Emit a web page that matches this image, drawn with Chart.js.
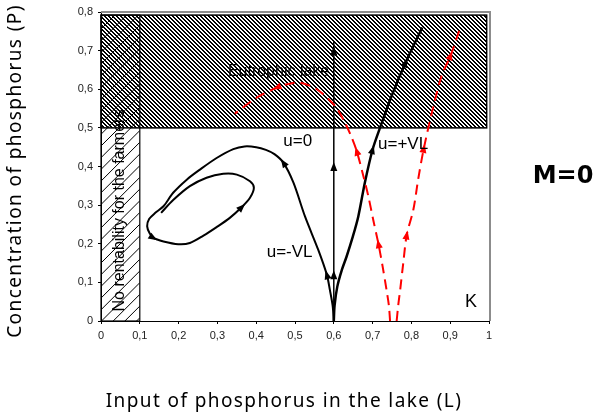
<!DOCTYPE html>
<html>
<head>
<meta charset="utf-8">
<script src="https://cdn.jsdelivr.net/npm/chart.js@4.4.1/dist/chart.umd.min.js"></script>
<style>
  html, body { margin: 0; padding: 0; background: #ffffff; }
  #wrap { width: 595px; height: 419px; }
</style>
</head>
<body>
<div id="wrap"><canvas id="chart" width="595" height="419"></canvas></div>
<script>
// Tick labels
const xTickValues = [0, 0.1, 0.2, 0.3, 0.4, 0.5, 0.6, 0.7, 0.8, 0.9, 1];
const yTickValues = [0, 0.1, 0.2, 0.3, 0.4, 0.5, 0.6, 0.7, 0.8];

// Regions (L, P)
const eutrophicL = [0, 0.994];
const eutrophicP = [0.5, 0.792];
const noRentL = [0, 0.1];
const noRentP = [0, 0.792];

// Trajectory u=0
const uZeroL = [0.6, 0.6, 0.6, 0.6, 0.6];
const uZeroP = [0, 0.12, 0.40, 0.70, 0.725];
const uZeroArrows = [1, 2, 3];

// Trajectory u=+VL
const uPlusL = [0.6, 0.602, 0.609, 0.62, 0.633, 0.648, 0.663, 0.68, 0.70, 0.719, 0.75, 0.785, 0.828];
const uPlusP = [0, 0.04, 0.089, 0.13, 0.167, 0.215, 0.27, 0.358, 0.444, 0.5, 0.585, 0.669, 0.76];
const uPlusArrows = [8, 11];

// Trajectory u=-VL (spiral)
const uMinusL = [0.6, 0.597, 0.59, 0.582, 0.56, 0.526, 0.496, 0.47, 0.447, 0.425, 0.40, 0.37, 0.341,
  0.298, 0.255, 0.221, 0.186, 0.161, 0.14, 0.124, 0.119, 0.125, 0.135, 0.161, 0.199, 0.229, 0.264,
  0.298, 0.332, 0.363, 0.384, 0.394, 0.384, 0.35, 0.315, 0.272, 0.229, 0.186, 0.155];
const uMinusP = [0, 0.04, 0.08, 0.12, 0.184, 0.27, 0.358, 0.41, 0.432, 0.443, 0.45, 0.452, 0.445,
  0.422, 0.392, 0.366, 0.332, 0.297, 0.28, 0.264, 0.245, 0.228, 0.215, 0.206, 0.199, 0.202, 0.221,
  0.243, 0.267, 0.295, 0.319, 0.345, 0.362, 0.379, 0.381, 0.371, 0.349, 0.313, 0.28];
const uMinusArrows = [3, 7, 22, 29];

// Red dashed trajectories
const redLeftL = [0.745, 0.742, 0.736, 0.726, 0.715, 0.702, 0.689, 0.675, 0.659, 0.645, 0.628, 0.603,
  0.556, 0.513, 0.48, 0.453, 0.401, 0.345];
const redLeftP = [0, 0.04, 0.08, 0.14, 0.2, 0.26, 0.323, 0.38, 0.44, 0.478, 0.515, 0.557,
  0.6, 0.617, 0.613, 0.604, 0.578, 0.537];
const redLeftArrows = [4, 8, 15];

const redRightL = [0.762, 0.766, 0.771, 0.779, 0.788, 0.805, 0.818, 0.832, 0.857, 0.878, 0.901, 0.923];
const redRightP = [0, 0.04, 0.08, 0.15, 0.223, 0.288, 0.37, 0.447, 0.557, 0.635, 0.687, 0.751];
const redRightArrows = [4, 7, 10];

function series(xs, ys) {
  return xs.map((x, i) => ({ x: x, y: ys[i] }));
}

function commaLabel(v) {
  return String(Math.round(v * 10) / 10).replace('.', ',');
}

// dense "\\" hatch pattern
function densePattern(ctx) {
  const c = document.createElement('canvas');
  c.width = 4; c.height = 4;
  const g = c.getContext('2d');
  g.fillStyle = '#000000';
  for (let y = 0; y < 4; y++) {
    for (let x = 0; x < 4; x++) {
      const d = ((x - y) % 4 + 4) % 4;
      if (d === 0 || d === 1) g.fillRect(x, y, 1, 1);
    }
  }
  return ctx.createPattern(c, 'repeat');
}

const regionsPlugin = {
  id: 'regions',
  beforeDatasetsDraw(chart) {
    const { ctx, scales: { x, y } } = chart;

    // left box: sparse "/" hatch
    const lx0 = x.getPixelForValue(noRentL[0]), lx1 = x.getPixelForValue(noRentL[1]);
    const ly0 = y.getPixelForValue(noRentP[1]), ly1 = y.getPixelForValue(noRentP[0]);
    ctx.save();
    ctx.beginPath();
    ctx.rect(lx0, ly0, lx1 - lx0, ly1 - ly0);
    ctx.clip();
    ctx.strokeStyle = '#000000';
    ctx.lineWidth = 1;
    ctx.beginPath();
    for (let k = ly0 - 60; k < ly1 + 60; k += 11.7) {
      ctx.moveTo(lx0, k + (lx1 - lx0));
      ctx.lineTo(lx1, k);
    }
    ctx.stroke();
    ctx.restore();

    // eutrophic box: dense hatch
    const ex0 = x.getPixelForValue(eutrophicL[0]), ex1 = x.getPixelForValue(eutrophicL[1]);
    const ey0 = y.getPixelForValue(eutrophicP[1]), ey1 = y.getPixelForValue(eutrophicP[0]);
    ctx.save();
    ctx.fillStyle = densePattern(ctx);
    ctx.fillRect(ex0, ey0, ex1 - ex0, ey1 - ey0);
    ctx.strokeStyle = '#000000';
    ctx.lineWidth = 1.5;
    ctx.strokeRect(ex0, ey0, ex1 - ex0, ey1 - ey0);
    ctx.lineWidth = 1.2;
    ctx.strokeRect(lx0, ly0, lx1 - lx0, ly1 - ly0);
    ctx.restore();
  }
};

const arrowsPlugin = {
  id: 'arrows',
  afterDatasetsDraw(chart) {
    const ctx = chart.ctx;
    chart.data.datasets.forEach((ds, di) => {
      const pts = chart.getDatasetMeta(di).data;
      (ds.arrows || []).forEach(i => {
        const p = pts[i];
        const a = pts[i - 1];
        const b = pts[Math.min(i + 1, pts.length - 1)];
        const ang = Math.atan2(b.y - a.y, b.x - a.x);
        const len = 9, half = 3.5;
        ctx.save();
        ctx.translate(p.x, p.y);
        ctx.rotate(ang);
        ctx.beginPath();
        ctx.moveTo(len / 2, 0);
        ctx.lineTo(-len / 2, -half);
        ctx.lineTo(-len / 2, half);
        ctx.closePath();
        ctx.fillStyle = ds.borderColor;
        ctx.fill();
        ctx.restore();
      });
    });
  }
};

const textPlugin = {
  id: 'texts',
  afterDatasetsDraw(chart) {
    const { ctx, scales: { x, y } } = chart;
    ctx.save();
    ctx.fillStyle = '#000000';
    ctx.textBaseline = 'middle';
    ctx.textAlign = 'left';
    ctx.font = '16px "Liberation Sans", Arial, sans-serif';
    ctx.fillText('Eutrophic lake', x.getPixelForValue(0.327), y.getPixelForValue(0.647));
    ctx.font = '17px "Liberation Sans", Arial, sans-serif';
    ctx.fillText('u=0', x.getPixelForValue(0.47), y.getPixelForValue(0.465));
    ctx.fillText('u=+VL', x.getPixelForValue(0.714), y.getPixelForValue(0.457));
    ctx.fillText('u=-VL', x.getPixelForValue(0.427), y.getPixelForValue(0.177));
    ctx.font = '18px "Liberation Sans", Arial, sans-serif';
    ctx.fillText('K', x.getPixelForValue(0.938), y.getPixelForValue(0.049));

    ctx.translate(x.getPixelForValue(0.049), y.getPixelForValue(0.286));
    ctx.rotate(-Math.PI / 2);
    ctx.textAlign = 'center';
    ctx.font = '16px "Liberation Sans", Arial, sans-serif';
    ctx.fillText('No rentability for the farmers', 0, 0);
    ctx.restore();
  },
  afterDraw(chart) {
    const { ctx, chartArea: a } = chart;
    ctx.save();
    // grey plot frame (top and right)
    ctx.strokeStyle = '#8c8c8c';
    ctx.lineWidth = 2;
    ctx.beginPath();
    ctx.moveTo(a.left, a.top);
    ctx.lineTo(a.right + 1, a.top);
    ctx.lineTo(a.right + 1, a.bottom);
    ctx.stroke();

    ctx.fillStyle = '#000000';
    ctx.textBaseline = 'middle';
    ctx.textAlign = 'center';
    ctx.font = '19px "Noto Sans", sans-serif';
    ctx.letterSpacing = '1.4px';
    ctx.fillText('Input of phosphorus in the lake (L)', 284, 402);
    ctx.save();
    ctx.translate(16, 171);
    ctx.rotate(-Math.PI / 2);
    ctx.fillText('Concentration of phosphorus (P)', 0, 0);
    ctx.restore();
    ctx.letterSpacing = '0px';
    ctx.font = 'bold 24px "DejaVu Sans", sans-serif';
    ctx.fillText('M=0', 563, 177);
    ctx.restore();
  }
};

const tickFont = { family: '"Liberation Sans", Arial, sans-serif', size: 11 };

new Chart(document.getElementById('chart'), {
  type: 'scatter',
  data: {
    datasets: [
      {
        label: 'red left', data: series(redLeftL, redLeftP), arrows: redLeftArrows,
        borderColor: '#ff0000', borderWidth: 2, borderDash: [10, 6]
      },
      {
        label: 'red right', data: series(redRightL, redRightP), arrows: redRightArrows,
        borderColor: '#ff0000', borderWidth: 2, borderDash: [10, 6]
      },
      {
        label: 'u=0', data: series(uZeroL, uZeroP), arrows: uZeroArrows,
        borderColor: '#000000', borderWidth: 1.5
      },
      {
        label: 'u=-VL', data: series(uMinusL, uMinusP), arrows: uMinusArrows,
        borderColor: '#000000', borderWidth: 2
      },
      {
        label: 'u=+VL', data: series(uPlusL, uPlusP), arrows: uPlusArrows,
        borderColor: '#000000', borderWidth: 2.5
      }
    ].map(ds => Object.assign({ showLine: true, pointRadius: 0, tension: 0.3, fill: false }, ds))
  },
  options: {
    responsive: false,
    animation: false,
    layout: { padding: { left: 0, right: 106, top: 12, bottom: 0 } },
    plugins: {
      legend: { display: false },
      tooltip: { enabled: false }
    },
    scales: {
      x: {
        type: 'linear',
        min: 0,
        max: 1,
        afterFit: s => { s.height = 98; },
        afterBuildTicks: s => { s.ticks = xTickValues.map(v => ({ value: v })); },
        border: { color: '#000000', width: 1 },
        grid: { drawOnChartArea: false, drawTicks: true, tickLength: 3, color: '#000000' },
        ticks: { font: tickFont, color: '#222222', padding: 5, maxRotation: 0, callback: commaLabel }
      },
      y: {
        type: 'linear',
        min: 0,
        max: 0.8,
        afterFit: s => { s.width = 101; },
        afterBuildTicks: s => { s.ticks = yTickValues.map(v => ({ value: v })); },
        border: { color: '#000000', width: 1 },
        grid: { drawOnChartArea: false, drawTicks: true, tickLength: 3, color: '#000000' },
        ticks: { font: tickFont, color: '#222222', padding: 5, callback: commaLabel }
      }
    }
  },
  plugins: [regionsPlugin, arrowsPlugin, textPlugin]
});
</script>
</body>
</html>
